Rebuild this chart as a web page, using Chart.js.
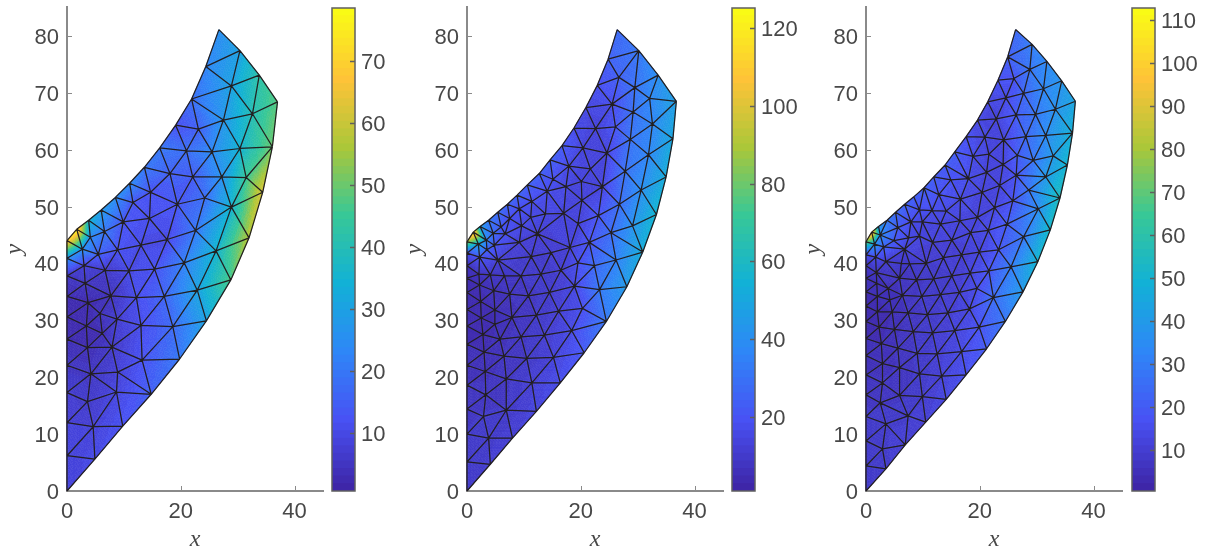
<!DOCTYPE html>
<html>
<head>
<meta charset="utf-8">
<script src="https://cdn.jsdelivr.net/npm/chart.js@4"></script>
<style>
html, body { margin: 0; padding: 0; background: #fff; width: 1207px; height: 552px; overflow: hidden; }
canvas { position: absolute; top: 0; }
</style>
</head>
<body>
<canvas id="m1" width="330" height="552" style="left:0px"></canvas>
<canvas id="c1" width="75" height="552" style="left:325px"></canvas>
<canvas id="m2" width="330" height="552" style="left:400px"></canvas>
<canvas id="c2" width="75" height="552" style="left:725px"></canvas>
<canvas id="m3" width="330" height="552" style="left:799px"></canvas>
<canvas id="c3" width="75" height="552" style="left:1125px"></canvas>
<script>
// Nodes of each mesh. The first <meshNBoundary> nodes walk round the outline.
const mesh1Boundary = 34;
const mesh1X = [
  26.7,30.4,33.8,37.0,36.1,34.4,32.0,28.8,24.5,19.8,
  14.8,9.8,4.9,0,0,0,0,0,0,0,
  0,0,0,0,1.7,3.8,6.0,8.5,11.0,13.6,
  16.3,19.1,21.9,24.4,
  28.9,32.6,27.5,23.1,21.0,25.5,30.4,27.2,31.5,22.1,
  18.1,14.7,19.4,24.2,28.9,22.6,17.6,14.5,11.6,9.9,
  6.6,4.1,2.7,5.5,8.9,13.0,26.2,3.0,6.7,10.9,
  15.4,20.6,22.9,17.1,12.2,7.7,3.2,3.7,5.8,8.8,
  13.0,18.6,3.4,6.2,3.6,7.9,13.2,8.9,4.2,8.7,
  3.6,4.6];
const mesh1Y = [
  81.1,77.4,73.1,68.4,60.5,52.5,44.5,37.1,29.9,23.2,
  17.0,11.4,5.6,0,6.2,12.0,17.3,22.1,26.7,30.6,
  34.2,37.8,40.9,44.0,46.0,47.6,49.4,51.6,54.1,56.9,
  60.3,64.3,68.9,74.6,
  71.2,66.3,65.2,63.6,59.8,59.6,60.2,55.2,55.1,55.2,
  55.8,52.5,50.4,51.5,49.9,45.8,44.2,47.9,50.7,47.3,
  45.6,44.6,42.5,41.6,42.4,43.2,42.2,39.6,38.8,38.7,
  39.0,40.1,35.3,34.2,34.0,34.3,36.5,33.1,31.2,30.2,
  29.1,28.9,29.0,27.7,25.2,25.3,23.0,20.9,20.6,17.4,
  15.7,11.3];
const mesh1V = [
  25,30,42,48,50,62,57,47,30,20,
  15,12,10,8,8,8,7,5,3,2,
  3,5,25,70,78,35,28,25,24,20,
  20,12,18,23,
  30,40,27,15,18,24,35,26,45,14,
  15,12,13,18,35,20,10,11,13,13,
  20,24,25,15,12,10,35,8,6,10,
  12,22,30,16,11,4,5,2,4,7,
  11,17,2,3,3,6,12,8,5,9,
  6,8];

const mesh2Boundary = 43;
const mesh2X = [
  26.4,30.2,33.6,36.8,36.2,35.0,33.3,30.9,28.1,24.5,
  20.6,16.4,12.2,8.0,4.1,0,0,0,0,0,
  0,0,0,0,0,0,0,0,0,1.1,
  2.3,3.8,5.4,7.1,8.8,10.6,12.7,14.6,16.7,18.8,
  20.9,22.9,24.8,
  26.7,29.5,32.1,25.5,29.2,32.6,22.6,26.1,28.7,31.9,
  20.4,24.6,27.8,30.6,17.9,21.7,15.1,20.1,23.8,17.4,
  14.1,11.4,9.2,7.5,6.0,4.6,3.4,20.2,17.0,26.8,
  23.1,19.5,13.8,11.2,9.6,12.4,6.7,4.8,9.2,2.0,
  3.5,29.1,25.3,21.5,18.1,14.8,11.3,2.2,5.4,19.5,
  22.4,26.2,4.1,6.6,9.5,13.0,16.5,2.1,2.2,4.7,
  7.5,10.8,14.5,18.9,23.3,2.4,4.9,7.9,12.2,16.1,
  20.3,2.5,4.9,2.8,5.8,9.5,13.6,18.4,3.0,6.5,
  10.5,15.2,3.2,6.9,11.4,3.3,6.9,2.9,3.8];
const mesh2Y = [
  81.1,77.4,73.1,68.5,61.9,55.2,48.6,42.0,35.9,29.8,
  24.3,19.0,14.0,9.3,4.7,0,5.1,10.0,14.4,18.6,
  22.1,25.8,29.0,31.9,34.9,37.4,39.6,41.8,43.8,45.5,
  46.5,47.6,49.0,50.4,52.0,53.8,55.8,58.2,60.7,63.8,
  67.4,71.3,75.9,
  72.7,70.9,69.0,68.0,66.6,64.5,63.7,64.0,61.8,59.1,
  60.3,59.4,56.2,52.9,57.1,56.6,54.8,54.4,53.5,53.5,
  52.7,50.9,49.6,47.9,46.4,45.3,44.1,51.1,48.8,50.4,
  48.4,47.0,48.7,48.1,46.6,45.2,45.2,43.2,43.7,43.4,
  42.4,46.6,45.4,43.7,42.8,41.9,41.2,41.1,40.6,40.1,
  39.6,40.6,38.0,37.8,37.8,38.1,38.8,38.1,36.2,35.2,
  34.6,34.3,34.9,36.0,35.4,33.3,31.8,30.5,30.9,31.6,
  32.1,30.4,29.3,27.5,26.7,27.1,27.4,28.2,24.4,23.7,
  23.3,23.5,21.0,19.7,19.0,16.9,14.2,13.1,9.3];
const mesh2V = [
  27,32,40,47,50,52,56,52,45,32,
  22,17,14,12,11,10,10,9,8,7,
  6,5,4,3,3,4,6,18,85,125,
  45,32,28,25,25,24,24,24,22,17,
  15,18,24,
  24,30,37,17,30,37,13,20,30,37,
  14,14,30,40,16,13,18,13,14,15,
  17,17,18,18,22,28,38,13,14,28,
  20,13,15,16,15,12,18,20,12,50,
  25,42,28,20,13,11,10,20,12,18,
  27,35,8,8,9,10,11,7,5,6,
  7,8,10,15,32,4,5,6,9,12,
  18,3,5,3,6,8,11,16,5,7,
  9,13,6,8,12,8,9,9,10];

const mesh3Boundary = 48;
const mesh3X = [
  26.3,29.2,31.8,34.4,36.8,36.3,35.4,34.1,32.4,30.2,
  27.6,24.5,21.2,17.6,14.1,10.5,6.9,3.5,0,0,
  0,0,0,0,0,0,0,0,0,0,
  0,0,0,1.0,2.2,3.7,5.2,6.8,8.4,10.2,
  11.9,13.9,15.6,17.6,19.6,21.4,23.2,24.9,
  28.8,31.2,33.3,26.0,27.7,24.6,26.4,29.8,22.9,20.9,
  24.2,28.1,31.6,18.8,21.6,26.6,29.4,32.9,24.1,21.2,
  26.4,31.6,18.0,14.9,23.5,28.6,12.8,20.4,16.6,25.8,
  30.3,9.4,11.6,14.1,22.6,19.6,16.5,13.1,9.9,7.9,
  5.6,24.8,21.5,18.4,27.7,15.1,11.7,9.4,7.5,6.8,
  2.5,4.9,3.1,1.5,1.7,23.3,19.9,13.6,16.8,25.5,
  21.6,18.3,15.1,11.9,8.9,5.9,3.5,1.8,6.2,7.7,
  10.6,3.9,1.9,6.4,9.8,13.1,16.4,19.5,22.4,2.0,
  4.2,2.0,4.6,7.4,10.8,14.4,18.2,2.3,5.0,8.3,
  11.7,15.6,19.9,2.7,5.6,9.0,12.5,16.8,2.9,5.9,
  9.4,13.3,2.9,5.9,9.9,2.5,7.4,3.5,2.9];
const mesh3Y = [
  81.1,78.5,75.5,72.1,68.5,62.9,57.3,51.5,45.9,40.3,
  35.0,29.8,25.0,20.4,16.1,12.1,8.1,3.9,0,4.4,
  8.8,13.1,16.9,20.4,23.8,26.8,29.8,32.5,35.0,37.4,
  39.6,41.5,43.8,45.5,46.5,47.6,49.0,50.4,51.7,53.3,
  55.2,57.3,59.6,62.3,65.2,68.4,72.2,76.3,
  74.1,70.7,67.1,72.5,69.9,69.1,66.1,66.2,65.4,62.2,
  61.7,62.3,62.5,58.8,59.2,59.0,58.1,58.9,57.4,56.0,
  55.5,55.2,54.9,54.7,53.7,52.9,52.1,52.5,51.3,51.0,
  49.6,49.4,49.3,49.2,49.8,48.1,47.5,46.9,47.3,47.3,
  46.3,46.9,45.8,45.4,44.7,44.1,43.7,44.8,44.5,42.5,
  45.0,44.0,42.9,43.4,41.1,42.4,42.0,41.0,41.5,39.4,
  38.7,38.3,37.8,37.3,37.1,37.4,40.3,38.4,40.0,39.9,
  40.0,35.6,36.5,34.4,34.2,34.5,34.9,35.6,34.0,34.2,
  33.6,31.5,31.5,31.3,31.0,31.3,32.0,28.8,28.4,28.0,
  27.8,28.2,28.8,25.9,25.1,24.2,24.1,24.5,22.4,21.7,
  20.6,20.2,19.0,16.8,16.6,15.5,13.2,11.8,7.4];
const mesh3V = [
  24,30,34,38,44,48,50,55,52,50,
  40,28,20,16,13,11,10,9,8,8,
  8,8,7,6,5,4,3,3,4,5,
  6,15,70,110,40,30,24,22,21,21,
  20,20,20,16,13,13,17,21,
  28,33,37,17,23,14,20,28,12,13,
  12,24,35,15,12,20,28,40,12,12,
  17,40,15,17,12,28,17,12,14,17,
  35,16,15,14,13,12,12,12,13,15,
  20,20,14,12,28,11,11,12,14,12,
  35,20,22,40,15,18,12,10,10,30,
  18,12,9,8,7,6,9,7,8,8,
  9,5,5,6,8,9,11,15,25,4,
  5,3,4,6,8,10,13,3,5,7,
  9,12,17,4,6,8,10,14,5,6,
  8,11,6,7,9,7,9,9,9];

const xTicks = [0, 20, 40];
const yTicks = [0, 10, 20, 30, 40, 50, 60, 70, 80];
const barRanges = [[0.65, 78.5], [1, 125.1], [0.47, 112.8]];
const barSteps = [10, 20, 10];

const parulaStops = [[62,38,168],[72,82,244],[46,135,247],[18,177,214],[55,200,151],[171,199,57],[254,195,56],[249,251,21]];
const LEVELS = 64;
const TEXT = '#484848';
const AXIS = '#8a8a8a';
const TICK_FONT = { family: 'Liberation Sans', size: 22 };
const LABEL_FONT = { family: 'Liberation Serif', style: 'italic', size: 24, lineHeight: 1 };

function parula(t) {
  t = Math.min(1, Math.max(0, t));
  const q = Math.min(LEVELS - 1, Math.floor(t * LEVELS)) / (LEVELS - 1);
  const p = q * (parulaStops.length - 1);
  const i = Math.min(parulaStops.length - 2, Math.floor(p));
  const f = p - i;
  const c = parulaStops[i].map((a, k) => Math.round(a + (parulaStops[i + 1][k] - a) * f));
  return `rgb(${c[0]},${c[1]},${c[2]})`;
}

// Bowyer-Watson, the connectivity is worked out from the nodes
function delaunay(xs, ys, boundary) {
  const n = xs.length;
  const px = xs.concat([-5000, 5000, 0]);
  const py = ys.concat([-5000, -5000, 5000]);
  function circle(t) {
    const ax = px[t[0]], ay = py[t[0]], bx = px[t[1]], by = py[t[1]], cx = px[t[2]], cy = py[t[2]];
    const d = 2 * (ax * (by - cy) + bx * (cy - ay) + cx * (ay - by));
    const a2 = ax * ax + ay * ay, b2 = bx * bx + by * by, c2 = cx * cx + cy * cy;
    const ux = (a2 * (by - cy) + b2 * (cy - ay) + c2 * (ay - by)) / d;
    const uy = (a2 * (cx - bx) + b2 * (ax - cx) + c2 * (bx - ax)) / d;
    return { ux, uy, r2: (ax - ux) ** 2 + (ay - uy) ** 2 };
  }
  let tris = [[n, n + 1, n + 2]];
  for (let i = 0; i < n; i++) {
    const keep = [], edges = new Map();
    tris.forEach(t => {
      const c = circle(t);
      if ((px[i] - c.ux) ** 2 + (py[i] - c.uy) ** 2 < c.r2) {
        [[t[0], t[1]], [t[1], t[2]], [t[2], t[0]]].forEach(e => {
          const k = Math.min(e[0], e[1]) + '_' + Math.max(e[0], e[1]);
          edges.set(k, edges.has(k) ? null : e);
        });
      } else keep.push(t);
    });
    edges.forEach(e => { if (e) keep.push([e[0], e[1], i]); });
    tris = keep;
  }
  function inside(x, y) {
    let hit = false;
    for (let i = 0, j = boundary - 1; i < boundary; j = i++) {
      if ((ys[i] > y) !== (ys[j] > y) && x < (xs[j] - xs[i]) * (y - ys[i]) / (ys[j] - ys[i]) + xs[i]) hit = !hit;
    }
    return hit;
  }
  return tris.filter(t => t.every(v => v < n) &&
    inside((xs[t[0]] + xs[t[1]] + xs[t[2]]) / 3, (ys[t[0]] + ys[t[1]] + ys[t[2]]) / 3));
}

function drawInwardTicks(ctx, chart) {
  const { left, bottom } = chart.chartArea;
  ctx.strokeStyle = AXIS;
  ctx.lineWidth = 1;
  ctx.beginPath();
  chart.scales.x.ticks.forEach(t => {
    const p = Math.round(chart.scales.x.getPixelForValue(t.value)) + 0.5;
    ctx.moveTo(p, bottom); ctx.lineTo(p, bottom - 5);
  });
  chart.scales.y.ticks.forEach(t => {
    const p = Math.round(chart.scales.y.getPixelForValue(t.value)) + 0.5;
    ctx.moveTo(left, p); ctx.lineTo(left + 5, p);
  });
  ctx.stroke();
}

function meshPlugin(xs, ys, vs, boundary, range) {
  const tris = delaunay(xs, ys, boundary);
  const SUB = 8;
  return {
    id: 'mesh',
    beforeDatasetsDraw(chart) {
      const ctx = chart.ctx, sx = chart.scales.x, sy = chart.scales.y;
      const X = xs.map(v => sx.getPixelForValue(v));
      const Y = ys.map(v => sy.getPixelForValue(v));
      ctx.save();
      drawInwardTicks(ctx, chart);
      // shaded triangles, interpolated between the node values
      ctx.lineWidth = 0.6;
      tris.forEach(t => {
        const pos = (i, j) => {
          const a = i / SUB, b = j / SUB, c = 1 - a - b;
          return [a * X[t[0]] + b * X[t[1]] + c * X[t[2]], a * Y[t[0]] + b * Y[t[1]] + c * Y[t[2]]];
        };
        const tri = (p, q, r, a, b) => {
          const c = 1 - a - b;
          const v = a * vs[t[0]] + b * vs[t[1]] + c * vs[t[2]];
          const col = parula((v - range[0]) / (range[1] - range[0]));
          ctx.fillStyle = col; ctx.strokeStyle = col;
          ctx.beginPath();
          ctx.moveTo(p[0], p[1]); ctx.lineTo(q[0], q[1]); ctx.lineTo(r[0], r[1]);
          ctx.closePath(); ctx.fill(); ctx.stroke();
        };
        for (let i = 0; i < SUB; i++) {
          for (let j = 0; j < SUB - i; j++) {
            tri(pos(i, j), pos(i + 1, j), pos(i, j + 1), (i + 1 / 3) / SUB, (j + 1 / 3) / SUB);
            if (i + j < SUB - 1) tri(pos(i + 1, j), pos(i + 1, j + 1), pos(i, j + 1), (i + 2 / 3) / SUB, (j + 2 / 3) / SUB);
          }
        }
      });
      // element edges, each one once
      const seen = new Set();
      ctx.strokeStyle = '#231f20';
      ctx.lineWidth = 1.25;
      ctx.lineJoin = 'round';
      ctx.beginPath();
      tris.forEach(t => {
        [[t[0], t[1]], [t[1], t[2]], [t[2], t[0]]].forEach(e => {
          const k = Math.min(e[0], e[1]) + '_' + Math.max(e[0], e[1]);
          if (seen.has(k)) return;
          seen.add(k);
          ctx.moveTo(X[e[0]], Y[e[0]]);
          ctx.lineTo(X[e[1]], Y[e[1]]);
        });
      });
      ctx.stroke();
      ctx.restore();
    }
  };
}

function makeMesh(id, xs, ys, vs, boundary, range) {
  new Chart(document.getElementById(id), {
    type: 'scatter',
    data: { datasets: [{ data: xs.map((x, i) => ({ x: x, y: ys[i] })), pointRadius: 0, showLine: false }] },
    plugins: [meshPlugin(xs, ys, vs, boundary, range)],
    options: {
      responsive: false,
      animation: false,
      events: [],
      layout: { padding: { top: 7.4, right: 7, left: 0, bottom: 0 } },
      plugins: { legend: { display: false }, tooltip: { enabled: false } },
      scales: {
        x: {
          type: 'linear', min: 0, max: 45,
          afterFit: s => { s.height = 61; s.paddingLeft = 0; s.paddingRight = 0; },
          afterBuildTicks: s => { s.ticks = xTicks.map(v => ({ value: v })); },
          grid: { display: false, drawTicks: false },
          border: { display: true, color: AXIS, width: 2 },
          ticks: { color: TEXT, padding: 8, maxRotation: 0, font: TICK_FONT },
          title: { display: true, text: 'x', color: TEXT, padding: { top: 0, bottom: 0 }, font: LABEL_FONT }
        },
        y: {
          type: 'linear', min: 0, max: 85,
          afterFit: s => { s.width = 67; s.paddingTop = 0; s.paddingBottom = 0; },
          afterBuildTicks: s => { s.ticks = yTicks.map(v => ({ value: v })); },
          grid: { display: false, drawTicks: false },
          border: { display: true, color: AXIS, width: 2 },
          ticks: { color: TEXT, padding: 8, labelOffset: 2, font: TICK_FONT },
          title: { display: true, text: 'y', color: TEXT, padding: { top: 3, bottom: 0 }, font: LABEL_FONT }
        }
      }
    }
  });
}

const barFrame = {
  id: 'barFrame',
  afterDatasetsDraw(chart) {
    const ctx = chart.ctx, a = chart.chartArea, sy = chart.scales.y;
    ctx.save();
    ctx.strokeStyle = '#5f5f5f';
    ctx.lineWidth = 1.5;
    ctx.strokeRect(a.left, a.top, a.right - a.left, a.bottom - a.top);
    ctx.beginPath();
    sy.ticks.forEach(t => {
      const p = Math.round(sy.getPixelForValue(t.value)) + 0.5;
      ctx.moveTo(a.right, p); ctx.lineTo(a.right - 5, p);
    });
    ctx.stroke();
    ctx.restore();
  }
};

function makeBar(id, range, step) {
  const sets = [];
  const h = (range[1] - range[0]) / LEVELS;
  for (let i = 0; i < LEVELS; i++) {
    const col = parula((i + 0.5) / LEVELS);
    // lower band is painted over this one, the overlap hides the seam
    sets.push({ data: [[range[0] + (i - 0.5) * h, range[0] + (i + 1) * h]], backgroundColor: col, borderWidth: 0, barPercentage: 1, categoryPercentage: 1, grouped: false });
  }
  new Chart(document.getElementById(id), {
    type: 'bar',
    data: { labels: [''], datasets: sets },
    plugins: [barFrame],
    options: {
      responsive: false,
      animation: false,
      events: [],
      layout: { padding: { top: 8, right: 0, left: 7, bottom: 61 } },
      plugins: { legend: { display: false }, tooltip: { enabled: false } },
      scales: {
        x: { display: false },
        y: {
          position: 'right', min: range[0], max: range[1],
          afterFit: s => { s.width = 45; s.paddingTop = 0; s.paddingBottom = 0; },
          grid: { display: false, drawTicks: false },
          border: { display: false },
          ticks: { stepSize: step, includeBounds: false, color: TEXT, padding: 6, labelOffset: 2, font: TICK_FONT }
        }
      }
    }
  });
}

makeMesh('m1', mesh1X, mesh1Y, mesh1V, mesh1Boundary, barRanges[0]);
makeMesh('m2', mesh2X, mesh2Y, mesh2V, mesh2Boundary, barRanges[1]);
makeMesh('m3', mesh3X, mesh3Y, mesh3V, mesh3Boundary, barRanges[2]);
makeBar('c1', barRanges[0], barSteps[0]);
makeBar('c2', barRanges[1], barSteps[1]);
makeBar('c3', barRanges[2], barSteps[2]);
</script>
</body>
</html>
